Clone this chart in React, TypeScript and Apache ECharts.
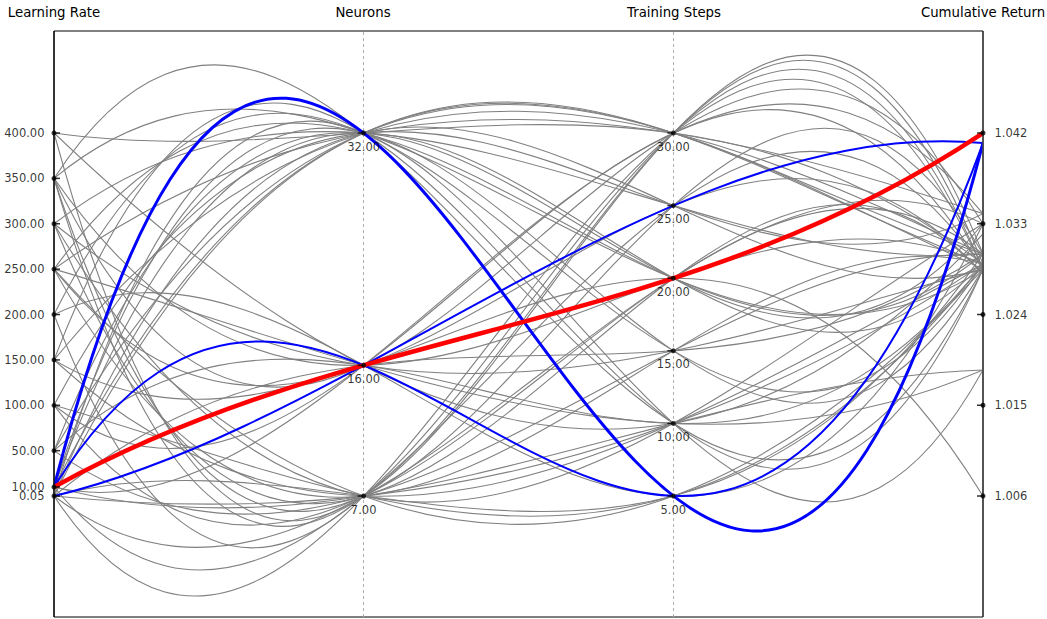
import React, { useEffect, useRef } from "react";
import * as echarts from "echarts";

// ---- tick labels per axis ----
const axisNames = ["Learning Rate", "Neurons", "Training Steps", "Cumulative Return"];
const lrTicks = [0.05, 10, 50, 100, 150, 200, 250, 300, 350, 400];
const neuronTicks = [7, 16, 32];
const stepTicks = [5, 10, 15, 20, 25, 30];
const returnTicks = [1.006, 1.015, 1.024, 1.033, 1.042];

// ---- grey runs (one entry per run) ----
const runLR = [
  400, 400, 400,
  350, 350, 350, 350, 350, 350,
  300, 300, 300, 300,
  250, 250, 250, 250, 250, 250,
  200, 200, 200,
  150, 150, 150, 150,
  100, 100, 100, 100,
  50, 50, 50, 50,
  10, 10, 10, 10, 10, 10,
  0.05, 0.05, 0.05, 0.05, 0.05, 0.05, 0.05, 0.05,
];
const runNeurons = [
  32, 7, 16,
  32, 7, 16, 7, 32, 16,
  7, 32, 16, 7,
  32, 7, 16, 32, 7, 16,
  32, 7, 16,
  32, 16, 7, 32,
  32, 7, 16, 7,
  32, 7, 16, 32,
  32, 7, 32, 7, 16, 32,
  7, 32, 7, 32, 16, 7, 32, 7,
];
const runSteps = [
  30, 30, 10,
  10, 30, 20, 25, 20, 30,
  20, 25, 15, 10,
  30, 15, 10, 20, 5, 25,
  15, 30, 5,
  30, 20, 10, 10,
  25, 20, 30, 5,
  30, 15, 10, 20,
  30, 25, 20, 10, 30, 15,
  30, 30, 20, 25, 15, 10, 10, 5,
];
const runReturn = [
  1.029, 1.030, 1.032,
  1.0285, 1.029, 1.029, 1.030, 1.0285, 1.033,
  1.028, 1.030, 1.0285, 1.033,
  1.034, 1.029, 1.0185, 1.030, 1.0285, 1.028,
  1.029, 1.0285, 1.033,
  1.030, 1.006, 1.029, 1.0285,
  1.034, 1.030, 1.0285, 1.029,
  1.0285, 1.030, 1.029, 1.033,
  1.030, 1.0285, 1.029, 1.0185, 1.034, 1.0285,
  1.0285, 1.029, 1.033, 1.0285, 1.030, 1.029, 1.0185, 1.030,
];

// ---- highlighted runs ----
const topLR = [10, 10, 0.05];
const topNeurons = [32, 16, 16];
const topSteps = [5, 5, 25];
const topReturn = [1.041, 1.041, 1.041];
const topWidths = [3, 2, 2];

const bestLR = [10];
const bestNeurons = [16];
const bestSteps = [20];
const bestReturn = [1.042];

const FONT = "DejaVu Sans";

function extent(arrs: number[][]): [number, number] {
  const all = arrs.flat();
  return [Math.min(...all), Math.max(...all)];
}

export default function App() {
  const ref = useRef<HTMLDivElement>(null);

  useEffect(() => {
    if (!ref.current) return;
    const chart = echarts.init(ref.current, null, { renderer: "svg" });

    const ranges = [
      extent([runLR, topLR, bestLR]),
      extent([runNeurons, topNeurons, bestNeurons]),
      extent([runSteps, topSteps, bestSteps]),
      extent([runReturn, topReturn, bestReturn]),
    ];
    const norm = (v: number, i: number) => (v - ranges[i][0]) / (ranges[i][1] - ranges[i][0]);
    const rows = (a: number[], b: number[], c: number[], d: number[]) =>
      a.map((_, k) => [norm(a[k], 0), norm(b[k], 1), norm(c[k], 2), norm(d[k], 3)]);

    const makeRender = (color: string, widths: number[] | number) => (params: any, api: any) => {
      const y0 = api.value(0), y1 = api.value(1), y2 = api.value(2), y3 = api.value(3);
      // cubic polynomial through the four axis points, expressed as a Bezier
      const c1 = (-5 * y0 + 18 * y1 - 9 * y2 + 2 * y3) / 6;
      const c2 = (2 * y0 - 9 * y1 + 18 * y2 - 5 * y3) / 6;
      const p0 = api.coord([0, y0]);
      const p1 = api.coord([1, c1]);
      const p2 = api.coord([2, c2]);
      const p3 = api.coord([3, y3]);
      const w = Array.isArray(widths) ? widths[params.dataIndex] : widths;
      return {
        type: "bezierCurve",
        shape: {
          x1: p0[0], y1: p0[1], cpx1: p1[0], cpy1: p1[1],
          cpx2: p2[0], cpy2: p2[1], x2: p3[0], y2: p3[1],
        },
        style: { stroke: color, lineWidth: w, fill: "none" },
        silent: true,
      };
    };

    const tickSets = [lrTicks, neuronTicks, stepTicks, returnTicks];
    const fmt = (v: number, i: number) => (i === 3 ? v.toFixed(3) : v.toFixed(2));
    const labelPos = ["left", "bottom", "bottom", "right"];
    const labelDist = [7, 5, 5, 9];

    const axisSeries: any[] = [];
    tickSets.forEach((ticks, i) => {
      axisSeries.push({
        type: "scatter",
        silent: true,
        z: 10,
        symbol: "rect",
        symbolSize: [6, 1.5],
        symbolOffset: i === 0 ? [3, 0] : [-3, 0],
        itemStyle: { color: "#000" },
        data: ticks.map((t) => [i, norm(t, i)]),
      });
      axisSeries.push({
        type: "scatter",
        silent: true,
        z: 11,
        symbol: "circle",
        symbolSize: 5,
        itemStyle: { color: "#000" },
        label: {
          show: true,
          position: labelPos[i],
          distance: labelDist[i],
          formatter: (p: any) => p.value[2],
          fontSize: 11.5,
          fontFamily: FONT,
          color: "#000",
        },
        data: ticks.map((t) => [i, norm(t, i), fmt(t, i)]),
      });
    });

    const titleXs = [54, 363, 674, 983];

    chart.setOption({
      animation: false,
      backgroundColor: "#fff",
      grid: {
        left: 54, right: 64, top: 31, bottom: 2,
        show: true, borderColor: "#000", borderWidth: 1, containLabel: false,
      },
      xAxis: {
        type: "value", min: 0, max: 3, interval: 1,
        axisLine: { show: false }, axisTick: { show: false }, axisLabel: { show: false },
        splitLine: { show: false },
      },
      yAxis: {
        type: "value", min: -0.3333, max: 1.281,
        axisLine: { show: false }, axisTick: { show: false }, axisLabel: { show: false },
        splitLine: { show: false },
      },
      graphic: [
        ...axisNames.map((name, i) => ({
          type: "text",
          x: titleXs[i],
          y: 12,
          style: {
            text: name, fontSize: 13.3, fontFamily: FONT, fill: "#000",
            align: "center", verticalAlign: "middle",
          },
        })),
        {
          type: "line",
          shape: { x1: 54, y1: 31, x2: 54, y2: 617 },
          style: { stroke: "#000", lineWidth: 1.2 },
          z: 5,
        },
        {
          type: "line",
          shape: { x1: 983, y1: 31, x2: 983, y2: 617 },
          style: { stroke: "#444", lineWidth: 1.5 },
          z: 5,
        },
      ],
      series: [
        {
          type: "custom", clip: true, z: 2,
          renderItem: makeRender("#808080", 1.1),
          data: rows(runLR, runNeurons, runSteps, runReturn),
          markLine: {
            silent: true,
            symbol: "none",
            label: { show: false },
            lineStyle: { color: "#b0b0b0", type: [3, 3], width: 1 },
            data: [{ xAxis: 1 }, { xAxis: 2 }],
          },
        },
        {
          type: "custom", clip: true, z: 3,
          renderItem: makeRender("#0000ff", topWidths),
          data: rows(topLR, topNeurons, topSteps, topReturn),
        },
        {
          type: "custom", clip: true, z: 4,
          renderItem: makeRender("#ff0000", 4.5),
          data: rows(bestLR, bestNeurons, bestSteps, bestReturn),
        },
        ...axisSeries,
      ],
    });

    return () => chart.dispose();
  }, []);

  return (
    <div
      ref={ref}
      style={{ position: "fixed", left: 0, top: 0, width: 1047, height: 619 }}
    />
  );
}
